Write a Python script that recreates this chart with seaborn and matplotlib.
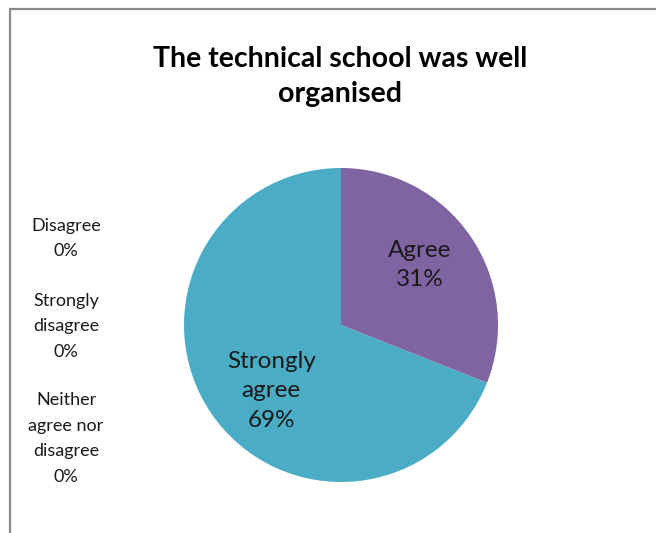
import matplotlib
matplotlib.use("Agg")
import matplotlib.pyplot as plt
import seaborn as sns
import numpy as np
from matplotlib.patches import Rectangle

# Survey responses (percent)
categories = ["Agree", "Strongly agree", "Disagree", "Strongly disagree", "Neither agree nor disagree"]
values = [31, 69, 0, 0, 0]
colors = ["#8064A2", "#4BACC6", "#C0504D", "#9BBB59", "#F79646"]
slice_label_text = ["Agree", "Strongly\nagree"]
zero_label_text = ["Disagree", "Strongly\ndisagree", "Neither\nagree nor\ndisagree"]

title = "The technical school was well\norganised"

sns.set_theme(style="white")
plt.rcParams["font.family"] = ["Lato", "DejaVu Sans"]

W, H = 656, 533
fig = plt.figure(figsize=(W / 100, H / 100), dpi=100)
fig.patch.set_facecolor("white")

# chart frame (left and top edges visible)
fig.add_artist(Rectangle((10 / W, -0.1), 1.2, (H - 9) / H + 0.1, transform=fig.transFigure,
                         fill=False, edgecolor="#8a8a8a", linewidth=1.6))

cx, cy, r = 341, 325, 157
ax = fig.add_axes([(cx - r) / W, (H - cy - r) / H, 2 * r / W, 2 * r / H])

pie_vals = values[:2]
wedges, _ = ax.pie(pie_vals, colors=colors[:2], startangle=90, counterclock=False,
                   wedgeprops=dict(linewidth=0))

# in-slice labels, placed along each wedge's bisector
label_shift_deg = [3, 9]
label_dist = [0.63, 0.61]
for w, lbl, v, dshift, dist in zip(wedges, slice_label_text, pie_vals, label_shift_deg, label_dist):
    ang = np.deg2rad((w.theta1 + w.theta2) / 2 + dshift)
    ax.text(dist * np.cos(ang), dist * np.sin(ang), f"{lbl}\n{v}%", ha="center", va="center",
            fontsize=17.5, color="#1a1a1a", linespacing=1.5)
ax.set_xlim(-1, 1)
ax.set_ylim(-1, 1)
ax.set_aspect("equal")
ax.axis("off")

# zero-valued categories listed to the left of the pie
zero_y = [238.5, 326.5, 438.5]
for lbl, v, y in zip(zero_label_text, values[2:], zero_y):
    fig.text(66 / W, 1 - y / H, f"{lbl}\n{v}%", ha="center", va="center",
             fontsize=13, color="#1a1a1a", linespacing=1.72)

fig.text(340 / W, 1 - 76.5 / H, title, ha="center", va="center",
         fontsize=20.5, fontweight="bold", color="black", linespacing=1.45)

fig.savefig("out.png", dpi=100)
